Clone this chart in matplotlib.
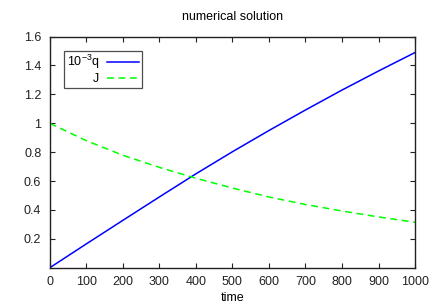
import matplotlib
matplotlib.use("Agg")
import matplotlib.pyplot as plt

plt.rcParams['font.family'] = ['Liberation Sans', 'DejaVu Sans']
plt.rcParams['mathtext.fontset'] = 'custom'
plt.rcParams['mathtext.rm'] = 'Liberation Sans'

# values
time = [0, 100, 200, 300, 400, 500, 600, 700, 800, 900, 1000]
q_scaled = [0.0, 0.165, 0.328, 0.49, 0.65, 0.803, 0.95, 1.092, 1.23, 1.362, 1.49]
J = [1.0, 0.88, 0.779, 0.695, 0.62, 0.552, 0.49, 0.438, 0.393, 0.352, 0.315]

fig = plt.figure(figsize=(4.36, 3.05), dpi=100)
ax = fig.add_axes([0.114, 0.122, 0.838, 0.758])

ax.plot(time, q_scaled, color='#0000ff', lw=1.1, label=r'$\mathregular{10^{-3}q}$')
ax.plot(time, J, color='#00ff00', lw=1.1, ls=(0, (4.5, 3)), label='J')

ax.set_xlim(0, 1000)
ax.set_ylim(0, 1.6)
ax.set_xticks(range(0, 1001, 100))
ax.set_yticks([0.2, 0.4, 0.6, 0.8, 1.0, 1.2, 1.4, 1.6])
ax.set_yticklabels(['0.2', '0.4', '0.6', '0.8', '1', '1.2', '1.4', '1.6'])
ax.tick_params(direction='in', length=3.5, width=0.8, labelsize=9,
               top=True, right=True, colors='#222222', pad=6)
for s in ax.spines.values():
    s.set_color('#222222')
    s.set_linewidth(1.0)

ax.set_title('numerical solution', fontsize=9, pad=12)
ax.set_xlabel('time', fontsize=9, labelpad=3)

leg = ax.legend(loc='upper left', bbox_to_anchor=(0.04, 0.939), borderaxespad=0,
                markerfirst=False, fontsize=9, handlelength=2.6, handletextpad=0.6,
                borderpad=0.2, labelspacing=0.15, fancybox=False, frameon=True)
leg.get_frame().set_edgecolor('#222222')
leg.get_frame().set_linewidth(0.9)
for t in leg.get_texts():
    t.set_ha('right')

fig.savefig('out.png', dpi=100)
